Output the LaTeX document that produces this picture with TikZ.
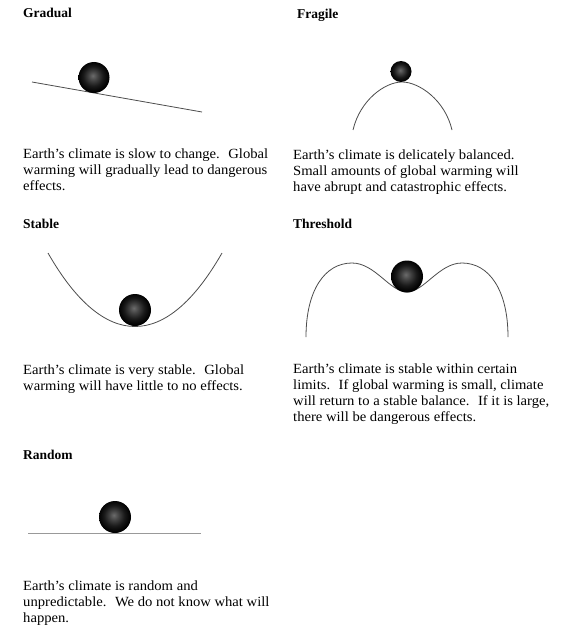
\documentclass[tikz,border=0pt]{standalone}
\usepackage{fontspec}
\setmainfont{Liberation Serif}
\newfontfamily\bodyfont[FakeStretch=1.045]{Liberation Serif}
\pgfdeclareradialshading{climball}{\pgfpoint{-2bp}{3bp}}{%
  color(0bp)=(black!58); color(8bp)=(black!75); color(16bp)=(black!90);
  color(22bp)=(black!97); color(25bp)=(black); color(50bp)=(black)}
\tikzset{
  title/.style={anchor=base west, inner sep=0pt, font=\fontsize{13.5}{16}\selectfont\bfseries},
  body/.style={anchor=base west, inner sep=0pt, align=left, font=\bodyfont\fontsize{14}{16}\selectfont},
  ballnode/.style={circle, inner sep=0pt, shading=climball, draw=none},
  curve/.style={draw=black!70, line width=0.8pt},
  flat/.style={draw=black!40, line width=0.8pt}
}
\begin{document}
\begin{tikzpicture}[x=1pt,y=-1pt]
\useasboundingbox[fill=white] (0,0) rectangle (560,626);

% Gradual
\node[title] (tg) at (23,18) {Gradual};
\coordinate (g1) at (32,82);
\coordinate (g2) at (202,112);
\draw[curve] (g1) -- (g2);
\node[ballnode, minimum size=31pt] (bg) at (94,77.5) {};
\node[body] (xg) at (23,190) {Earth’s climate is slow to change.~ Global\\warming will gradually lead to dangerous\\effects.};

% Fragile
\node[title] (tf) at (297,19) {Fragile};
\coordinate (f1) at (353,130);
\coordinate (f2) at (402,82);
\coordinate (f3) at (452,130);
\draw[curve] (f1) .. controls (360,100) and (385,82) .. (f2) .. controls (419,82) and (445,100) .. (f3);
\node[ballnode, minimum size=21pt] (bf) at (401,71.5) {};
\node[body] (xf) at (293,191) {Earth’s climate is delicately balanced.\\Small amounts of global warming will\\have abrupt and catastrophic effects.};

% Stable
\node[title] (ts) at (23,228) {Stable};
\coordinate (s1) at (48,253);
\coordinate (s2) at (222,253);
\draw[curve] (s1) .. controls (104,351) and (166,351) .. (s2);
\node[ballnode, minimum size=32pt] (bs) at (135,310) {};
\node[body] (xs) at (23,390) {Earth’s climate is very stable.~ Global\\warming will have little to no effects.};

% Threshold
\node[title] (tt) at (293,228) {Threshold};
\coordinate (h1) at (306,337);
\coordinate (h2) at (352,263);
\coordinate (h3) at (407,292);
\coordinate (h4) at (462,263);
\coordinate (h5) at (508,337);
\draw[curve] (h1) .. controls (306,290) and (325,263) .. (h2)
  .. controls (375,263) and (390,292) .. (h3)
  .. controls (424,292) and (439,263) .. (h4)
  .. controls (489,263) and (508,290) .. (h5);
\node[ballnode, minimum size=32pt] (bt) at (407,276.5) {};
\node[body] (xt) at (293,421) {Earth’s climate is stable within certain\\limits.~ If global warming is small, climate\\will return to a stable balance.~ If it is large,\\there will be dangerous effects.};

% Random
\node[title] (tr) at (23,459) {Random};
\coordinate (r1) at (28,533);
\coordinate (r2) at (201,533);
\draw[flat] (r1) -- (r2);
\node[ballnode, minimum size=32pt] (br) at (115,517) {};
\node[body] (xr) at (23,622) {Earth’s climate is random and\\unpredictable.~ We do not know what will\\happen.};
\end{tikzpicture}
\end{document}
